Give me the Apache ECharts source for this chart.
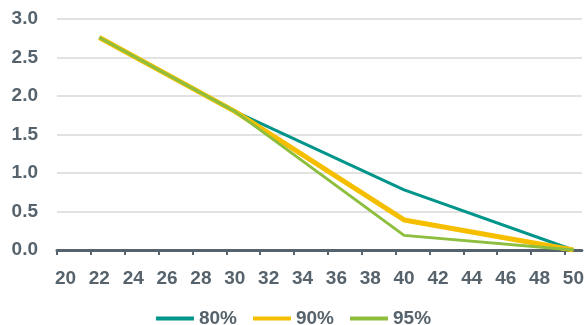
<!DOCTYPE html>
<html>
<head>
<meta charset="utf-8">
<script src="https://cdn.jsdelivr.net/npm/echarts@6/dist/echarts.min.js"></script>
<style>
html,body{margin:0;padding:0;background:#fff;}
#chart{width:587px;height:325px;}
</style>
</head>
<body>
<div id="chart"></div>
<script>
var xValues = [22, 30, 40, 50];
var s80 = [2.76, 1.8, 0.78, 0.0];
var s90 = [2.76, 1.8, 0.39, 0.0];
var s95 = [2.76, 1.8, 0.19, 0.0];
var seriesNames = ['80%', '90%', '95%'];
var xTicks = [20, 22, 24, 26, 28, 30, 32, 34, 36, 38, 40, 42, 44, 46, 48, 50];

function pairs(ys) { return xValues.map(function (x, i) { return [x, ys[i]]; }); }
// ticks sit on the category boundaries (half a unit before each label)
var tickMarks = xTicks.map(function (v) { return v - 0.5; });

var grey = '#56636C';
var chart = echarts.init(document.getElementById('chart'), null, {renderer: 'canvas'});
chart.setOption({
  animation: false,
  color: ['#00958A', '#F5BF00', '#8DBE3E'],
  grid: {left: 57, right: 5, top: 19, bottom: 75, containLabel: false},
  xAxis: {
    type: 'value', min: 19.5, max: 50.5,
    axisLine: {show: true, lineStyle: {color: grey, width: 3}},
    axisTick: {show: true, customValues: tickMarks, length: 5, lineStyle: {color: grey, width: 2}},
    axisLabel: {customValues: xTicks, margin: 19, fontSize: 19, fontWeight: 'bold', color: grey, fontFamily: 'Liberation Sans'},
    splitLine: {show: false}
  },
  yAxis: {
    type: 'value', min: 0, max: 3, interval: 0.5,
    axisLine: {show: false}, axisTick: {show: false},
    axisLabel: {margin: 19, fontSize: 19, fontWeight: 'bold', color: grey, fontFamily: 'Liberation Sans',
      formatter: function (v) { return v.toFixed(1); }},
    splitLine: {lineStyle: {color: '#D9D9D9', width: 1.5}}
  },
  legend: {
    data: seriesNames, left: 'center', top: 304, icon: 'rect', itemWidth: 38, itemHeight: 4, itemGap: 16,
    textStyle: {fontSize: 19, fontWeight: 'bold', color: grey, fontFamily: 'Liberation Sans'}
  },
  series: [
    {name: seriesNames[0], type: 'line', data: pairs(s80), showSymbol: false, symbol: 'none', lineStyle: {width: 3}},
    {name: seriesNames[1], type: 'line', data: pairs(s90), showSymbol: false, symbol: 'none', lineStyle: {width: 5}},
    {name: seriesNames[2], type: 'line', data: pairs(s95), showSymbol: false, symbol: 'none', lineStyle: {width: 3}}
  ]
});
</script>
</body>
</html>
